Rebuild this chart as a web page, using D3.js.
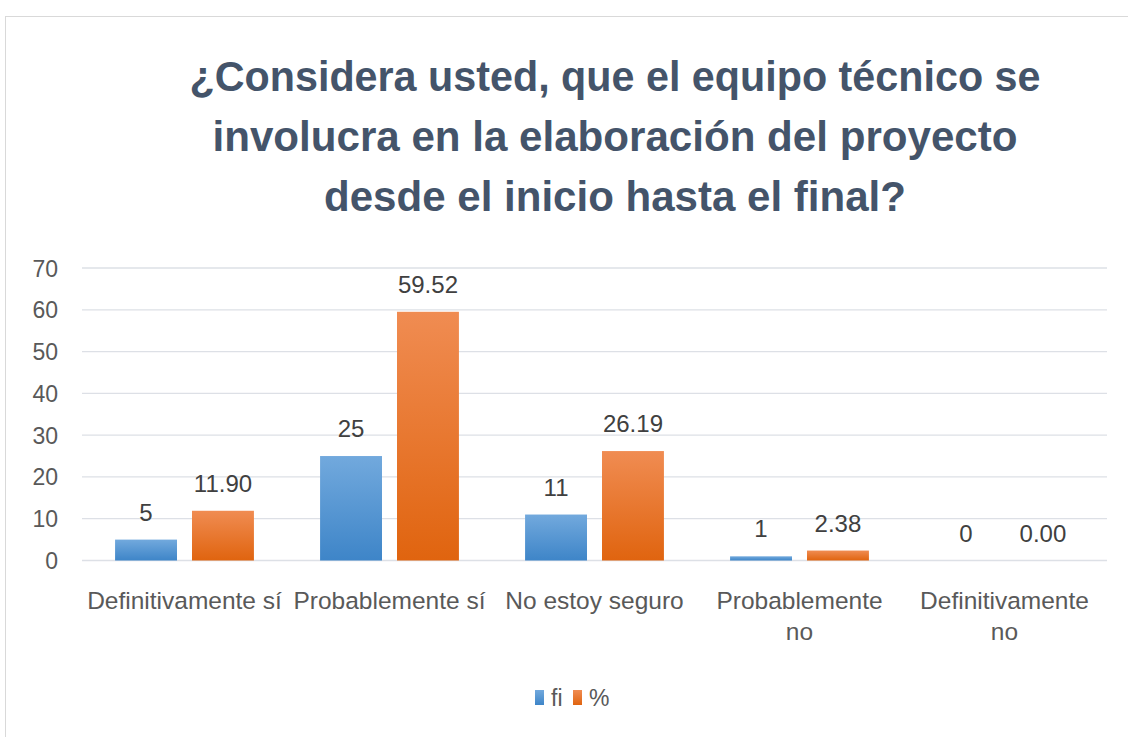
<!DOCTYPE html>
<html>
<head>
<meta charset="utf-8">
<script src="https://cdn.jsdelivr.net/npm/d3@7"></script>
<style>
  html, body { margin: 0; padding: 0; background: #fff; }
  svg { display: block; }
  text { font-family: "Liberation Sans", Arial, sans-serif; }
</style>
</head>
<body>
<svg id="chart" width="1128" height="737"></svg>
<script>
// data
const categories = [
  ['Definitivamente sí'],
  ['Probablemente sí'],
  ['No estoy seguro'],
  ['Probablemente', 'no'],
  ['Definitivamente', 'no']
]
const fi = [5, 25, 11, 1, 0]
const pct = [11.90, 59.52, 26.19, 2.38, 0.00]
const seriesNames = ['fi', '%']
const yTicks = [0, 10, 20, 30, 40, 50, 60, 70]
const titleLines = [
  '¿Considera usted, que el equipo técnico se',
  'involucra en la elaboración del proyecto',
  'desde el inicio hasta el final?'
]

// title is set in a narrow face in the original, so squeeze each line
const titleWidths = [851, 805, 582]

const svg = d3.select('#chart')

// gradients like the office default fill
const defs = svg.append('defs')
const grads = [
  {id: 'gBlue', top: '#72A9DD', bottom: '#3E85C8'},
  {id: 'gOrange', top: '#F08C52', bottom: '#E0640F'}
]
grads.forEach(g => {
  let lg = defs.append('linearGradient')
    .attr('id', g.id)
    .attr('x1', 0).attr('y1', 0).attr('x2', 0).attr('y2', 1)
  lg.append('stop').attr('offset', '0%').attr('stop-color', g.top)
  lg.append('stop').attr('offset', '100%').attr('stop-color', g.bottom)
})

// chart frame
svg.append('rect')
  .attr('x', 5.5).attr('y', 16.5)
  .attr('width', 1140).attr('height', 740)
  .attr('fill', '#fff')
  .attr('stroke', '#D9D9D9')

// title
svg.append('g')
  .selectAll('text')
  .data(titleLines)
  .join('text')
  .attr('x', 615)
  .attr('y', (d, i) => 91 + i * 60)
  .attr('text-anchor', 'middle')
  .attr('font-size', 42)
  .attr('font-weight', 'bold')
  .attr('fill', '#44546A')
  .attr('textLength', (d, i) => titleWidths[i])
  .attr('lengthAdjust', 'spacingAndGlyphs')
  .text(d => d)

const margin = {left: 82, right: 1107, top: 268, bottom: 560.5}

let x = d3.scaleBand()
  .domain(d3.range(categories.length))
  .range([margin.left, margin.right])

let x1 = d3.scaleBand()
  .domain([0, 1])
  .range([0, x.bandwidth()])
  .paddingInner(0.195)
  .paddingOuter(0.43)

let y = d3.scaleLinear()
  .domain([0, 70])
  .range([margin.bottom, margin.top])

// gridlines
svg.append('g')
  .selectAll('line')
  .data(yTicks)
  .join('line')
  .attr('x1', margin.left).attr('x2', margin.right)
  .attr('y1', d => y(d)).attr('y2', d => y(d))
  .attr('stroke', '#DDE0E6')
  .attr('stroke-width', 1.3)

// y labels
svg.append('g')
  .selectAll('text')
  .data(yTicks)
  .join('text')
  .attr('x', 58)
  .attr('y', d => y(d) + 8.5)
  .attr('text-anchor', 'end')
  .attr('font-size', 23)
  .attr('fill', '#595959')
  .text(d => d)

// bars
const series = [fi, pct]
const fills = ['url(#gBlue)', 'url(#gOrange)']
const fmt = [d => d3.format('d')(d), d => d3.format('.2f')(d)]

series.forEach((vals, s) => {
  let g = svg.append('g')
  g.selectAll('rect')
    .data(vals)
    .join('rect')
    .attr('x', (d, i) => x(i) + x1(s))
    .attr('y', d => y(d))
    .attr('width', x1.bandwidth())
    .attr('height', d => y(0) - y(d))
    .attr('fill', fills[s])
  g.selectAll('text')
    .data(vals)
    .join('text')
    .attr('x', (d, i) => x(i) + x1(s) + x1.bandwidth() / 2)
    .attr('y', d => y(d) - 19)
    .attr('text-anchor', 'middle')
    .attr('font-size', 24)
    .attr('fill', '#404040')
    .text(fmt[s])
})

// category labels
let cat = svg.append('g')
categories.forEach((lines, i) => {
  cat.append('text')
    .attr('x', x(i) + x.bandwidth() / 2)
    .attr('y', 609)
    .attr('text-anchor', 'middle')
    .attr('font-size', 24.5)
    .attr('fill', '#595959')
    .selectAll('tspan')
    .data(lines)
    .join('tspan')
    .attr('x', x(i) + x.bandwidth() / 2)
    .attr('dy', (d, j) => j ? 31 : 0)
    .text(d => d)
})

// legend
const legendX = [535, 573]
let legend = svg.append('g')
seriesNames.forEach((name, s) => {
  legend.append('rect')
    .attr('x', legendX[s]).attr('y', 690)
    .attr('width', 9).attr('height', 15)
    .attr('fill', fills[s])
  legend.append('text')
    .attr('x', legendX[s] + 16).attr('y', 706)
    .attr('font-size', 23)
    .attr('fill', '#595959')
    .text(name)
})
</script>
</body>
</html>
